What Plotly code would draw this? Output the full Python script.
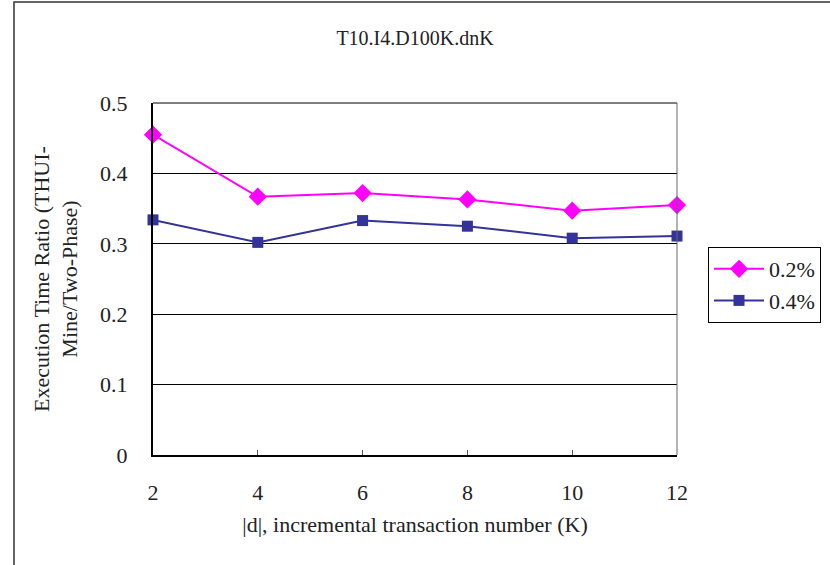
import plotly.graph_objects as go

x_vals = [2, 4, 6, 8, 10, 12]
s02 = [0.455, 0.367, 0.372, 0.363, 0.347, 0.355]
s04 = [0.334, 0.302, 0.333, 0.325, 0.308, 0.311]
series_names = ["0.2%", "0.4%"]
x_ticks = [2, 4, 6, 8, 10, 12]
y_ticks = [0, 0.1, 0.2, 0.3, 0.4, 0.5]
y_tick_text = ["0", "0.1", "0.2", "0.3", "0.4", "0.5"]

FONT = "Liberation Serif"

fig = go.Figure()
fig.add_trace(go.Scatter(x=x_vals, y=s02, name=series_names[0], mode="lines+markers",
                         line=dict(color="#FF00FF", width=2),
                         marker=dict(symbol="diamond", size=14, color="#FF00FF"),
                         cliponaxis=False))
fig.add_trace(go.Scatter(x=x_vals, y=s04, name=series_names[1], mode="lines+markers",
                         line=dict(color="#333399", width=2),
                         marker=dict(symbol="square", size=11, color="#333399"),
                         cliponaxis=False))

L, R, T, B = 153, 153, 103, 110
fig.update_layout(
    width=830, height=565,
    margin=dict(l=L, r=R, t=T, b=B, autoexpand=False),
    paper_bgcolor="white", plot_bgcolor="white",
    font=dict(family=FONT, color="#222222", size=22),
    title=dict(text="T10.I4.D100K.dnK", x=0.5, xanchor="center", y=1 - 38 / 565, yanchor="middle",
               font=dict(family=FONT, size=20, color="#222222")),
    xaxis=dict(range=[2, 12], tickvals=x_ticks, ticktext=[str(v) for v in x_ticks],
               showgrid=False, zeroline=False, showline=True, linecolor="black", linewidth=2,
               ticks="inside", ticklen=5, tickcolor="#555555", ticklabelstandoff=17,
               tickfont=dict(family=FONT, size=22),
               title=dict(text="|d|, incremental transaction number (K)", standoff=12,
                          font=dict(family=FONT, size=22))),
    yaxis=dict(range=[0, 0.5], tickvals=y_ticks, ticktext=y_tick_text,
               showgrid=True, gridcolor="black", gridwidth=1, zeroline=False,
               showline=True, linecolor="black", linewidth=2,
               ticks="outside", ticklen=0, ticklabelstandoff=19,
               tickfont=dict(family=FONT, size=22),
               title=dict(text="Execution Time Ratio (THUI-<br>Mine/Two-Phase)", standoff=16,
                          font=dict(family=FONT, size=22))),
    legend=dict(x=(708 - L) / (830 - L - R), xanchor="left",
                y=(565 - B - 247) / (565 - T - B), yanchor="top",
                bordercolor="black", borderwidth=1, bgcolor="white",
                font=dict(family=FONT, size=22), itemwidth=50, tracegroupgap=0),
    showlegend=True,
)

# plot frame (top and right)
fig.add_shape(type="line", xref="paper", yref="paper", x0=0, x1=1, y0=1, y1=1,
              line=dict(color="black", width=1))
fig.add_shape(type="line", xref="paper", yref="paper", x0=1, x1=1, y0=0, y1=1,
              line=dict(color="#666666", width=1))
# outer chart border
fig.add_shape(type="rect", xref="paper", yref="paper",
              x0=(14 - L) / (830 - L - R), x1=(840 - L) / (830 - L - R),
              y0=(565 - B - 575) / (565 - T - B), y1=(565 - B - 2) / (565 - T - B),
              line=dict(color="#333333", width=1.5), layer="below")

fig.write_html("out.html")
